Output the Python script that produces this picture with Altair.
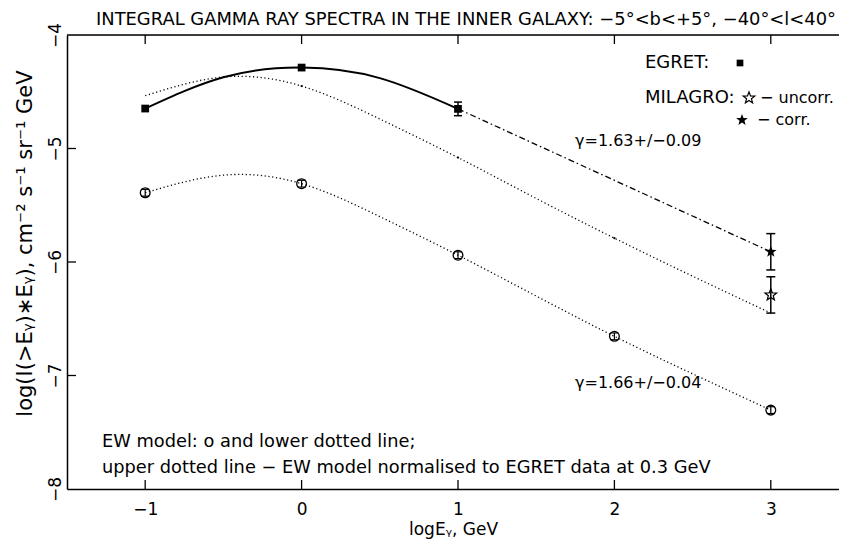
import math
import pandas as pd
import altair as alt

# ---------------- data ----------------
ew_curve_x = [-1, -0.5, 0, 0.5, 1, 1.5, 2, 2.5, 3]
ew_lower = [-5.39, -5.235, -5.31, -5.60, -5.94, -6.30, -6.655, -6.985, -7.305]
ew_upper = [-4.535, -4.37, -4.45, -4.74, -5.08, -5.44, -5.79, -6.125, -6.45]

ew_pts_x = [-1, 0, 1, 2, 3]
ew_pts_y = [-5.39, -5.31, -5.94, -6.655, -7.305]
ew_pts_err = [0.03, 0.03, 0.03, 0.03, 0.03]

ew_upper_marks_x = [0, 1, 2]
ew_upper_marks_y = [-4.45, -5.08, -5.79]

egret_x = [-1, 0, 1]
egret_y = [-4.648, -4.287, -4.651]
egret_err = [0.0, 0.0, 0.06]

egret_fit_x = [-1, -0.5, 0, 0.5, 1]
egret_fit_y = [-4.648, -4.372, -4.287, -4.38, -4.651]

milagro_x = [3, 3]
milagro_y = [-5.91, -6.29]
milagro_err = [0.16, 0.16]
milagro_kind = ["corr.", "uncorr."]

powerlaw_x = [1, 3]
powerlaw_y = [-4.651, -5.91]

x_ticks = [-1, 0, 1, 2, 3]
y_ticks = [-5, -6, -7]

# ---------------- layout ----------------
W, H = 772, 454
FONT = "DejaVu Sans"
BLACK = "#000000"

xs = alt.Scale(domain=[-1.5, -1.5 + W / 156.4], nice=False, zero=False)
ys = alt.Scale(domain=[-8, -4], nice=False, zero=False)

x_axis = alt.Axis(values=x_ticks, ticks=False, grid=False, domainColor=BLACK, domainWidth=1.5,
                  labelFontSize=17, labelFont=FONT, labelColor=BLACK, labelPadding=12,
                  title="logEᵧ, GeV", titleFontSize=17, titleFont=FONT, titleFontWeight="normal",
                  titleColor=BLACK, titlePadding=4, format="d", labelExpr="replace(datum.label, '-', '−')")
y_axis = alt.Axis(values=[-4, -5, -6, -7, -8], ticks=False, grid=False, domainColor=BLACK, domainWidth=1.5,
                  labelFontSize=17, labelFont=FONT, labelColor=BLACK, labelAngle=270,
                  labelAlign="center", labelBaseline="middle", labelPadding=12, labelFlush=False,
                  labelOverlap=False,
                  title="log(I(>Eᵧ)∗Eᵧ),  cm⁻² s⁻¹ sr⁻¹ GeV", titleFontSize=21, titleFont=FONT,
                  titleFontWeight="normal", titleColor=BLACK, titleAngle=270, titleX=-42, titleY=208,
                  titleAlign="center", titleBaseline="middle", format="d",
                  labelExpr="replace(datum.label, '-', '−')")


def X(f):
    return alt.X(f"{f}:Q", scale=xs, axis=x_axis)


def Y(f):
    return alt.Y(f"{f}:Q", scale=ys, axis=y_axis)


lower_df = pd.DataFrame({"x": ew_curve_x, "y": ew_lower})
upper_df = pd.DataFrame({"x": ew_curve_x, "y": ew_upper})
ewp_df = pd.DataFrame({"x": ew_pts_x, "y": ew_pts_y, "e": ew_pts_err})
ewp_df["lo"] = ewp_df.y - ewp_df.e
ewp_df["hi"] = ewp_df.y + ewp_df.e
upm_df = pd.DataFrame({"x": ew_upper_marks_x, "y": ew_upper_marks_y})
eg_df = pd.DataFrame({"x": egret_x, "y": egret_y, "e": egret_err})
eg_df["lo"] = eg_df.y - eg_df.e
eg_df["hi"] = eg_df.y + eg_df.e
egerr_df = eg_df[eg_df.e > 0]
egfit_df = pd.DataFrame({"x": egret_fit_x, "y": egret_fit_y})
mil_df = pd.DataFrame({"x": milagro_x, "y": milagro_y, "e": milagro_err, "k": milagro_kind})
mil_df["lo"] = mil_df.y - mil_df.e
mil_df["hi"] = mil_df.y + mil_df.e
pl_df = pd.DataFrame({"x": powerlaw_x, "y": powerlaw_y})
xt_df = pd.DataFrame({"x": x_ticks})
yt_df = pd.DataFrame({"y": y_ticks})

pts = []
for i in range(10):
    r = 1.0 if i % 2 == 0 else 0.42
    a = -math.pi / 2 + i * math.pi / 5
    pts.append(f"{r * math.cos(a):.3f},{r * math.sin(a):.3f}")
STAR = "M" + "L".join(pts) + "Z"

layers = []

dotted = dict(strokeDash=[1.2, 2.6], strokeWidth=1.3, color=BLACK, interpolate="natural")
layers.append(alt.Chart(lower_df).mark_line(**dotted).encode(x=X("x"), y=Y("y")))
layers.append(alt.Chart(upper_df).mark_line(**dotted).encode(x=X("x"), y=Y("y")))
layers.append(alt.Chart(egfit_df).mark_line(strokeWidth=2, color=BLACK, interpolate="natural")
              .encode(x=X("x"), y=Y("y")))
layers.append(alt.Chart(pl_df).mark_line(strokeWidth=1.3, color=BLACK, strokeDash=[6, 3, 1.5, 3])
              .encode(x=X("x"), y=Y("y")))

# upper model small marks
layers.append(alt.Chart(upm_df).mark_point(shape="circle", size=5, filled=True, color=BLACK, opacity=1)
              .encode(x=X("x"), y=Y("y")))

# EW model points: circle with small error bar
layers.append(alt.Chart(ewp_df).mark_point(shape="circle", size=95, filled=False, color=BLACK,
                                           strokeWidth=1.3, opacity=1)
              .encode(x=X("x"), y=Y("y")))
layers.append(alt.Chart(ewp_df).mark_rule(color=BLACK, strokeWidth=1.2)
              .encode(x=X("x"), y=Y("lo"), y2="hi:Q"))
layers.append(alt.Chart(ewp_df).mark_tick(orient="horizontal", size=8, thickness=1.2, color=BLACK, opacity=1)
              .encode(x=X("x"), y=Y("lo")))
layers.append(alt.Chart(ewp_df).mark_tick(orient="horizontal", size=8, thickness=1.2, color=BLACK, opacity=1)
              .encode(x=X("x"), y=Y("hi")))

# EGRET
layers.append(alt.Chart(egerr_df).mark_rule(color=BLACK, strokeWidth=1.5)
              .encode(x=X("x"), y=Y("lo"), y2="hi:Q"))
layers.append(alt.Chart(egerr_df).mark_tick(orient="horizontal", size=8, thickness=1.5, color=BLACK, opacity=1)
              .encode(x=X("x"), y=Y("lo")))
layers.append(alt.Chart(egerr_df).mark_tick(orient="horizontal", size=8, thickness=1.5, color=BLACK, opacity=1)
              .encode(x=X("x"), y=Y("hi")))
layers.append(alt.Chart(eg_df).mark_point(shape="square", size=60, filled=True, color=BLACK, opacity=1)
              .encode(x=X("x"), y=Y("y")))

# MILAGRO
layers.append(alt.Chart(mil_df).mark_rule(color=BLACK, strokeWidth=1.5)
              .encode(x=X("x"), y=Y("lo"), y2="hi:Q"))
layers.append(alt.Chart(mil_df).mark_tick(orient="horizontal", size=9, thickness=1.5, color=BLACK, opacity=1)
              .encode(x=X("x"), y=Y("lo")))
layers.append(alt.Chart(mil_df).mark_tick(orient="horizontal", size=9, thickness=1.5, color=BLACK, opacity=1)
              .encode(x=X("x"), y=Y("hi")))
layers.append(alt.Chart(mil_df[mil_df.k == "corr."]).mark_point(shape=STAR, size=150, filled=True,
                                                              color=BLACK, opacity=1)
              .encode(x=X("x"), y=Y("y")))
layers.append(alt.Chart(mil_df[mil_df.k == "uncorr."]).mark_point(shape=STAR, size=150, filled=False,
                                                                stroke=BLACK, strokeWidth=1.2, opacity=1)
              .encode(x=X("x"), y=Y("y")))

# inward ticks and top frame
layers.append(alt.Chart(xt_df).mark_rule(color=BLACK, strokeWidth=1.3)
              .encode(x=X("x"), y=alt.value(H), y2=alt.value(H - 9)))
layers.append(alt.Chart(xt_df).mark_rule(color=BLACK, strokeWidth=1.3)
              .encode(x=X("x"), y=alt.value(0), y2=alt.value(9)))
layers.append(alt.Chart(yt_df).mark_rule(color=BLACK, strokeWidth=1.3)
              .encode(y=Y("y"), x=alt.value(0), x2=alt.value(9)))
layers.append(alt.Chart(xt_df.head(1)).mark_rule(color=BLACK, strokeWidth=1.5)
              .encode(x=alt.value(0), x2=alt.value(W), y=alt.value(0)))

one = pd.DataFrame({"a": [0]})


def label(text, px, py, size=16, align="left", baseline="middle"):
    return alt.Chart(one).mark_text(text=text, font=FONT, fontSize=size, color=BLACK, align=align,
                                    baseline=baseline).encode(x=alt.value(px), y=alt.value(py))


layers += [
    label("INTEGRAL GAMMA RAY SPECTRA IN THE INNER GALAXY: −5°<b<+5°, −40°<l<40°", 399, -10, 17.9,
          "center", "alphabetic"),
    label("EGRET:", 578, 28, 18),
    label("MILAGRO:", 578, 63, 18),
    label("− uncorr.", 693, 63, 16),
    label("− corr.", 690, 85, 16),
    label("γ=1.63+/−0.09", 508, 106, 16),
    label("γ=1.66+/−0.04", 508, 348, 16),
    label("EW model: ο and lower dotted line;", 35, 407, 17.8),
    label("upper dotted line − EW model normalised to EGRET data at 0.3 GeV", 35, 432.5, 17.8),
]
layers.append(alt.Chart(one).mark_point(shape="square", size=45, filled=True, color=BLACK, opacity=1)
              .encode(x=alt.value(673), y=alt.value(28)))
layers.append(alt.Chart(one).mark_point(shape=STAR, size=150, filled=False, stroke=BLACK,
                                        strokeWidth=1.2, opacity=1)
              .encode(x=alt.value(682), y=alt.value(63)))
layers.append(alt.Chart(one).mark_point(shape=STAR, size=150, filled=True, color=BLACK, opacity=1)
              .encode(x=alt.value(675), y=alt.value(85)))

chart = alt.layer(*layers).properties(
    width=W, height=H,
    autosize=alt.AutoSizeParams(type="none"),
    padding={"left": 59, "top": 27, "right": 0, "bottom": 52},
).configure_view(stroke=None).configure(background="white")

chart.save("out.html", embed_options={"renderer": "svg", "actions": False})
